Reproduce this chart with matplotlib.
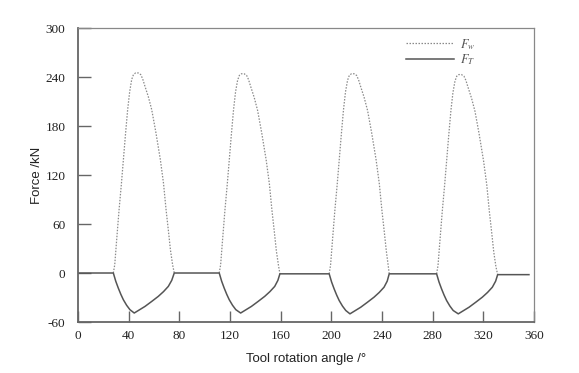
import matplotlib
matplotlib.use("Agg")
import matplotlib.pyplot as plt

# ---- data ----
# F_w pulses (angle in degrees, force in kN)
fw1_x = [27.9, 29.0, 30.5, 32.4, 34.2, 35.8, 37.5, 39.2, 40.8, 42.4, 43.8, 45.5, 47.5, 49.5, 51.0, 53.0, 55.5, 58.2, 61.5, 65.0, 67.5, 69.5, 71.5, 73.0, 74.7, 76.0]
fw1_y = [0, 10, 40, 77, 108, 138, 170, 200, 222, 237, 243, 245, 245, 243, 238, 228, 216, 200, 172, 139, 110, 78, 50, 28, 10, 0]
fw2_x = [111.5, 112.6, 114.1, 116.0, 117.8, 119.4, 121.1, 122.8, 124.4, 126.0, 127.4, 129.1, 131.1, 133.1, 134.6, 136.6, 139.1, 141.8, 145.1, 148.6, 151.1, 153.1, 155.1, 156.6, 158.3, 159.4]
fw2_y = [0, 10, 40, 77, 108, 138, 170, 200, 222, 236, 242, 244, 244, 242, 237, 227, 215, 199, 171, 138, 109, 77, 49, 27, 9, -1]
fw3_x = [198.3, 199.4, 200.9, 202.8, 204.6, 206.2, 207.9, 209.6, 211.2, 212.8, 214.2, 215.9, 217.9, 219.9, 221.4, 223.4, 225.9, 228.6, 231.9, 235.4, 237.9, 239.9, 241.9, 243.4, 244.9, 245.7]
fw3_y = [-1, 10, 40, 77, 108, 138, 170, 200, 222, 236, 242, 244, 244, 242, 237, 227, 215, 199, 171, 138, 109, 77, 49, 27, 9, -1]
fw4_x = [283.1, 284.2, 285.7, 287.6, 289.4, 291.0, 292.7, 294.4, 296.0, 297.6, 299.0, 300.7, 302.7, 304.7, 306.2, 308.2, 310.7, 313.4, 316.7, 320.2, 322.7, 324.7, 326.7, 328.2, 329.9, 331.3]
fw4_y = [-1, 9, 39, 76, 107, 137, 169, 199, 221, 235, 241, 243, 243, 241, 236, 226, 214, 198, 170, 137, 108, 76, 48, 26, 8, -2]

# F_T: full trace including flat segments
ft_x = [0, 27.9, 29.8, 31.8, 33.8, 35.8, 38.4, 41.0, 44.4, 48.6, 52.9, 58.2, 63.4, 67.5, 71.3, 74.0, 76.0,
        111.5, 113.4, 115.4, 117.4, 119.4, 122.0, 124.6, 128.4, 132.6, 136.9, 142.2, 147.4, 151.5, 155.3, 157.8, 159.4,
        198.3, 200.2, 202.2, 204.2, 206.2, 208.8, 211.4, 214.7, 218.9, 223.2, 228.5, 233.7, 237.8, 241.6, 244.1, 245.7,
        283.1, 285.0, 287.0, 289.0, 291.0, 293.6, 296.2, 300.2, 304.4, 308.7, 314.0, 319.2, 323.3, 327.1, 329.7, 331.3, 356.0]
ft_y = [0, 0, -10, -18.4, -26, -32.7, -39.5, -44.9, -49, -45, -40.9, -34.8, -28.6, -22.8, -16.4, -9, 0,
        0, -10, -18.4, -26, -32.7, -39.5, -44.9, -49, -45, -40.9, -34.8, -28.6, -22.8, -16.4, -9, -1,
        -1, -11, -19.4, -27, -33.7, -40.5, -45.9, -50, -46, -41.9, -35.8, -29.6, -23.8, -17.4, -10, -1,
        -1, -11, -19.4, -27, -33.7, -40.5, -45.9, -50, -46, -41.9, -35.8, -29.6, -23.8, -17.4, -10, -2, -2]

x_ticks = [0, 40, 80, 120, 160, 200, 240, 280, 320, 360]
y_ticks = [-60, 0, 60, 120, 180, 240, 300]

# ---- figure ----
plt.rcParams["mathtext.fontset"] = "stix"
fig = plt.figure(figsize=(5.79, 3.73), dpi=100)
ax = fig.add_axes([0.1347, 0.1367, 0.9223 - 0.1347, 0.9249 - 0.1367])

fw_style = dict(color="#8a8a8a", linestyle=(0, (1.2, 1.2)), linewidth=0.9)
ax.plot(fw1_x, fw1_y, label=r"$F_w$", **fw_style)
ax.plot(fw2_x, fw2_y, **fw_style)
ax.plot(fw3_x, fw3_y, **fw_style)
ax.plot(fw4_x, fw4_y, **fw_style)
ax.plot(ft_x, ft_y, color="#555555", linewidth=1.1, label=r"$F_T$")

ax.set_xlim(0, 360)
ax.set_ylim(-60, 300)
ax.set_xticks(x_ticks)
ax.set_yticks(y_ticks)

serif = "Liberation Serif"
ax.set_xticklabels([str(t) for t in x_ticks], fontfamily=serif, fontsize=9.5, color="#222222")
ax.set_yticklabels([str(t) for t in y_ticks], fontfamily=serif, fontsize=9.5, color="#222222")
ax.tick_params(axis="x", direction="in", length=8, width=1.0, color="#666666", pad=6)
ax.tick_params(axis="y", direction="in", length=9, width=1.0, color="#666666", pad=9)

for side in ["left", "bottom"]:
    ax.spines[side].set_color("#666666")
    ax.spines[side].set_linewidth(1.3)
for side in ["top", "right"]:
    ax.spines[side].set_color("#888888")
    ax.spines[side].set_linewidth(0.9)

ax.set_xlabel("Tool rotation angle /°", fontfamily="Liberation Sans", fontsize=9.5, color="#222222", labelpad=8)
ax.set_ylabel("Force /kN", fontfamily="Liberation Sans", fontsize=9.5, color="#222222", labelpad=2)

leg = ax.legend(loc="upper right", frameon=False, fontsize=9, handlelength=3.8, handletextpad=0.5,
                bbox_to_anchor=(0.89, 1.0), borderaxespad=0.3, labelspacing=0.05)
for t in leg.get_texts():
    t.set_color("#555555")

fig.savefig("out.png", dpi=100)
